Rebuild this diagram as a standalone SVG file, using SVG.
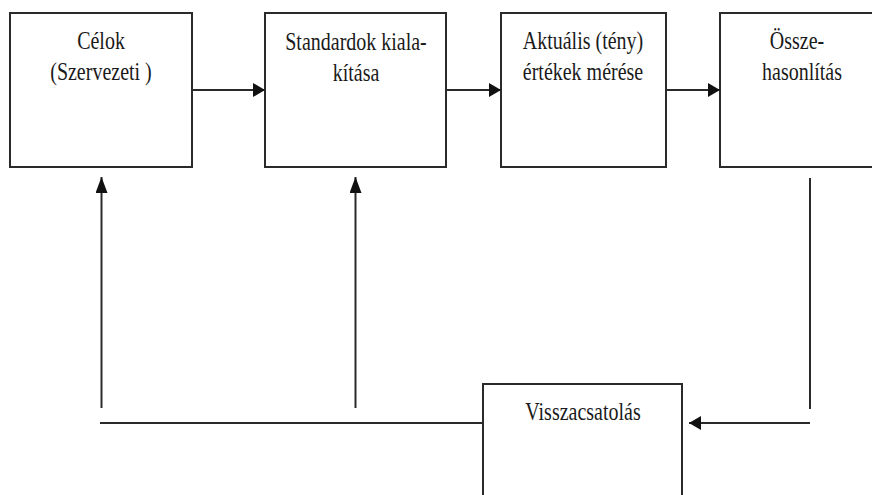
<svg xmlns="http://www.w3.org/2000/svg" width="872" height="495" viewBox="0 0 872 495">
  <style>
    .box { fill: #ffffff; stroke: #2a2a2a; stroke-width: 2; }
    .lbl { font-family: "Liberation Serif", "Times New Roman", serif; font-size: 20px; fill: #1a1a1a; text-anchor: middle; }
    .wire { fill: none; stroke: #2a2a2a; stroke-width: 2; }
  </style>
  <defs>
    <marker id="arrow" viewBox="0 0 12 14" refX="12" refY="7" markerWidth="12" markerHeight="14" markerUnits="userSpaceOnUse" orient="auto">
      <path d="M0,0 L12,7 L0,14 Z" fill="#111111"/>
    </marker>
    <marker id="arrowUp" viewBox="0 0 16 12" refX="16" refY="6" markerWidth="16" markerHeight="12" markerUnits="userSpaceOnUse" orient="auto">
      <path d="M0,0 L16,6 L0,12 Z" fill="#111111"/>
    </marker>
  </defs>
  <rect width="872" height="495" fill="#ffffff"/>

  <g id="celok">
    <rect class="box" x="10" y="13" width="182" height="154"/>
    <text class="lbl" transform="translate(101,49) scale(1,1.25)">Célok</text>
    <text class="lbl" transform="translate(101,80) scale(1,1.25)">(Szervezeti )</text>
  </g>

  <g id="standardok">
    <rect class="box" x="265" y="13" width="181" height="154"/>
    <text class="lbl" transform="translate(356,50) scale(1,1.25)">Standardok kiala-</text>
    <text class="lbl" transform="translate(356,81) scale(1,1.25)">kítása</text>
  </g>

  <g id="aktualis">
    <rect class="box" x="501" y="13" width="165" height="154"/>
    <text class="lbl" transform="translate(583,49) scale(1,1.25)">Aktuális (tény)</text>
    <text class="lbl" transform="translate(583,80) scale(1,1.25)">értékek mérése</text>
  </g>

  <g id="osszehasonlitas">
    <rect class="box" x="720" y="13" width="170" height="154"/>
    <text class="lbl" transform="translate(797,49) scale(1,1.25)">Össze-</text>
    <text class="lbl" transform="translate(802,80) scale(1,1.25)">hasonlítás</text>
  </g>

  <g id="visszacsatolas">
    <rect class="box" x="483" y="384" width="199" height="130"/>
    <text class="lbl" transform="translate(583,420) scale(1,1.25)">Visszacsatolás</text>
  </g>

  <g id="connectors">
    <!-- forward chain -->
    <line class="wire" x1="192" y1="90" x2="265" y2="90" marker-end="url(#arrow)"/>
    <line class="wire" x1="446" y1="90" x2="501" y2="90" marker-end="url(#arrow)"/>
    <line class="wire" x1="666" y1="90" x2="720" y2="90" marker-end="url(#arrow)"/>
    <!-- feedback path -->
    <line class="wire" x1="810" y1="178" x2="810" y2="409"/>
    <line class="wire" x1="810" y1="423" x2="689" y2="423" marker-end="url(#arrow)"/>
    <line class="wire" x1="100" y1="423" x2="483" y2="423"/>
    <line class="wire" x1="101.5" y1="408" x2="101.5" y2="177" marker-end="url(#arrowUp)"/>
    <line class="wire" x1="355.5" y1="408" x2="355.5" y2="177" marker-end="url(#arrowUp)"/>
  </g>
</svg>
